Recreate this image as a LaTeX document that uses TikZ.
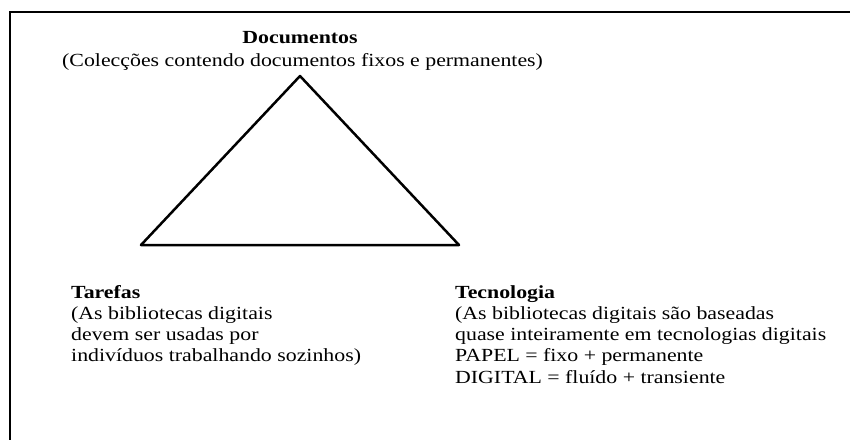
\documentclass[tikz,border=0pt]{standalone}
\usepackage{fontspec}
\setmainfont{Liberation Serif}[FakeStretch=1.18]
\begin{document}
\begin{tikzpicture}[x=1pt,y=-1pt,
  txt/.style={inner sep=0pt, align=left, font=\fontsize{18.5}{21.25}\selectfont},
  frame/.style={line width=2pt, black},
  tri/.style={line width=2.5pt, line join=round, black}]
\useasboundingbox (0,0) rectangle (850,439);
\coordinate (fbl) at (10,440);
\coordinate (ftl) at (10,12);
\coordinate (ftr) at (851,12);
\draw[frame] (fbl) -- (ftl) -- (ftr);
\coordinate (apex) at (300,76);
\coordinate (bl) at (141,245);
\coordinate (br) at (459,245);
\draw[tri] (apex) -- (bl) -- (br) -- cycle;
\node[txt, anchor=base] (doc) at (300,43) {\textbf{Documentos}};
\node[txt, anchor=base west] (docsub) at (62,66) {(Colecções contendo documentos fixos e permanentes)};
\node[txt, anchor=base west] (tar) at (71,361.75) {\textbf{Tarefas}\\(As bibliotecas digitais\\devem ser usadas por\\indivíduos trabalhando sozinhos)};
\node[txt, anchor=base west] (tec) at (455,383) {\textbf{Tecnologia}\\(As bibliotecas digitais são baseadas\\quase inteiramente em tecnologias digitais\\PAPEL = fixo + permanente\\DIGITAL = fluído + transiente};
\end{tikzpicture}
\end{document}
